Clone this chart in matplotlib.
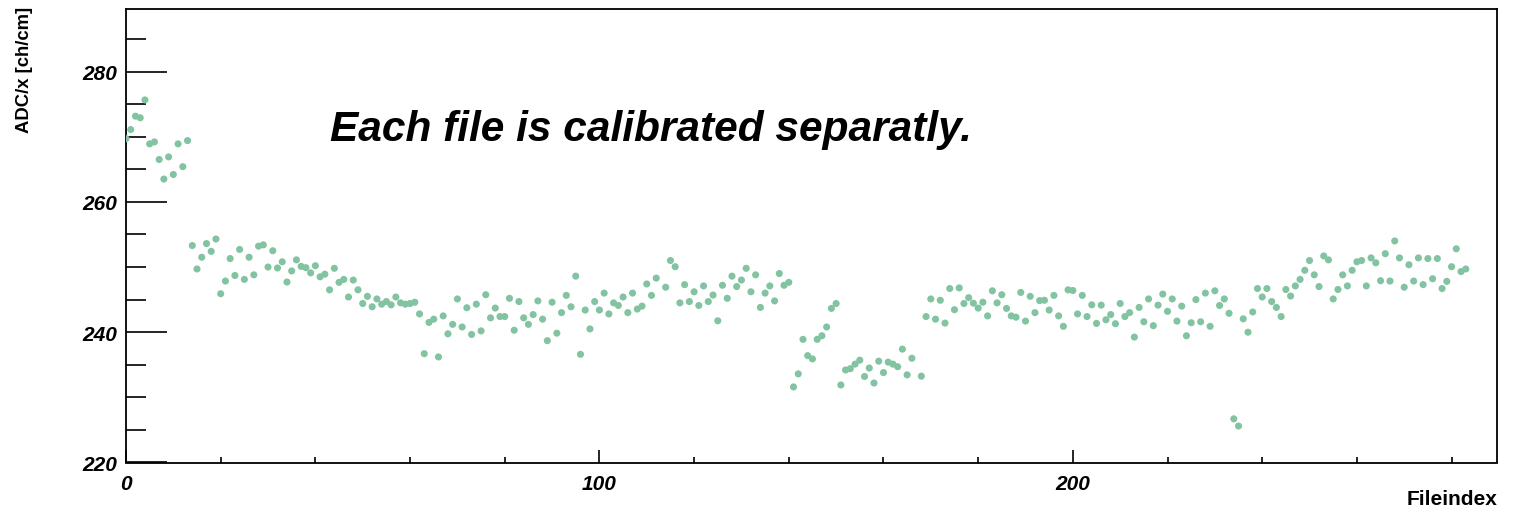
import numpy as np
import matplotlib
matplotlib.use("Agg")
import matplotlib.pyplot as plt
from matplotlib.ticker import MultipleLocator

file_index = [i for i in range(0, 284) if i not in (113, 167)]

adc_per_x = [
    # 0-34
    269.7, 271.1, 273.15, 272.9, 275.65, 268.9, 269.2, 266.5, 263.5, 266.9,
    264.2, 268.9, 265.4, 269.4, 253.3, 249.7, 251.5, 253.6, 252.4, 254.3,
    245.9, 247.85, 251.3, 248.7, 252.7, 248.1, 251.5, 248.8, 253.2, 253.4,
    250.0, 252.5, 249.85, 250.8, 247.7,
    # 35-70
    249.4, 251.1, 250.1, 249.9, 249.1, 250.2, 248.5, 248.9, 246.5, 249.8,
    247.65, 248.1, 245.4, 248.0, 246.5, 244.4, 245.5, 243.9, 245.1, 244.3,
    244.7, 244.2, 245.4, 244.5, 244.3, 244.4, 244.6, 242.8, 236.7, 241.5,
    242.0, 236.2, 242.5, 239.75, 241.2, 245.1,
    # 71-112
    240.8, 243.75, 239.65, 244.3, 240.2, 245.75, 242.2, 243.7, 242.4, 242.4,
    245.2, 240.3, 244.7, 242.2, 241.2, 242.7, 244.8, 242.0, 238.7, 244.6,
    239.85, 243.0, 245.65, 243.9, 248.6, 236.6, 243.4, 240.5, 244.7, 243.4,
    246.0, 242.8, 244.5, 244.1, 245.4, 243.0, 246.0, 243.55, 244.0, 247.4,
    245.65, 248.3,
    # 114-166
    246.9, 251.0, 250.05, 244.5, 247.3, 244.7, 246.2, 244.1, 247.1, 244.7,
    245.7, 241.75, 247.2, 245.2, 248.6, 247.0, 248.0, 249.8, 246.2, 248.8,
    243.8, 246.0, 247.1, 244.8, 249.0, 247.2, 247.65, 231.6, 233.6, 238.9,
    236.4, 235.9, 238.9, 239.45, 240.8, 243.65, 244.4, 231.9, 234.2, 234.4,
    235.1, 235.7, 233.2, 234.5, 232.2, 235.55, 233.8, 235.4, 235.1, 234.7,
    237.4, 233.45, 236.0,
    # 168-207
    233.25, 242.4, 245.1, 242.0, 244.9, 241.4, 246.7, 243.45, 246.8, 244.4,
    245.3, 244.45, 243.7, 244.6, 242.5, 246.35, 244.5, 245.75, 243.65, 242.5,
    242.3, 246.1, 241.7, 245.5, 243.0, 244.85, 244.9, 243.4, 245.65, 242.5,
    240.9, 246.5, 246.4, 242.8, 245.65, 242.4, 244.2, 241.35, 244.15, 241.9,
    # 208-243
    242.7, 241.3, 244.4, 242.4, 243.0, 239.25, 243.8, 241.6, 245.1, 241.0,
    244.15, 245.85, 243.2, 245.1, 241.7, 244.0, 239.45, 241.45, 245.0, 241.6,
    246.0, 240.9, 246.35, 244.1, 245.1, 242.9, 226.7, 225.6, 242.05, 240.0,
    243.1, 246.7, 245.4, 246.7, 244.7, 243.8,
    # 244-283
    242.4, 246.55, 245.55, 247.1, 248.1, 249.5, 251.0, 248.8, 247.0, 251.7,
    251.1, 245.1, 246.55, 248.8, 247.1, 249.5, 250.8, 251.0, 247.1, 251.4,
    250.65, 247.9, 252.05, 247.85, 254.0, 251.4, 246.9, 250.35, 247.85, 251.4,
    247.3, 251.3, 248.2, 251.3, 246.7, 247.8, 250.05, 252.8, 249.3, 249.7,
]

x_major = [0, 100, 200]
y_major = [220, 240, 260, 280]
title_text = "Each file is calibrated separatly."
x_label = "Fileindex"
y_label = "ADC/x [ch/cm]"

plt.rcParams['font.family'] = ['Liberation Sans', 'DejaVu Sans']

W, H = 1515, 510
fig = plt.figure(figsize=(W / 100, H / 100), dpi=100)
ax = fig.add_axes([126 / W, (H - 463.5) / H, (1497 - 126) / W, (463.5 - 10) / H])

ax.scatter(file_index, adc_per_x, s=26, color='#82c3a1', edgecolors='none', zorder=3)

ax.set_xlim(0, 289.6)
ax.set_ylim(220, 289.6)

ax.xaxis.set_major_locator(plt.FixedLocator(x_major))
ax.xaxis.set_minor_locator(MultipleLocator(20))
ax.yaxis.set_major_locator(plt.FixedLocator(y_major))
ax.yaxis.set_minor_locator(MultipleLocator(5))

ax.tick_params(axis='y', which='major', direction='in', length=29.5, width=1.2,
               left=True, right=False, labelsize=15, pad=6)
ax.tick_params(axis='y', which='minor', direction='in', length=14.5, width=1.2,
               left=True, right=False)
ax.tick_params(axis='x', which='major', direction='in', length=9.5, width=1.2,
               bottom=True, top=False, labelsize=15, pad=8)
ax.tick_params(axis='x', which='minor', direction='in', length=4.5, width=1.2,
               bottom=True, top=False)

for lab in ax.get_xticklabels() + ax.get_yticklabels():
    lab.set_fontweight('bold')
    lab.set_fontstyle('italic')

for sp in ax.spines.values():
    sp.set_linewidth(1.3)

fig.text(25 / W, (H - 7) / H, y_label, rotation=90, ha='center', va='top',
         fontsize=13.3, fontweight='bold')
fig.text(1497 / W, (H - 500) / H, x_label, ha='right', va='center',
         fontsize=15, fontweight='bold')
fig.text(330 / W, (H - 141) / H, title_text, ha='left', va='baseline',
         fontsize=30.5, fontweight='bold', fontstyle='italic')

fig.savefig('out.png', dpi=100)
